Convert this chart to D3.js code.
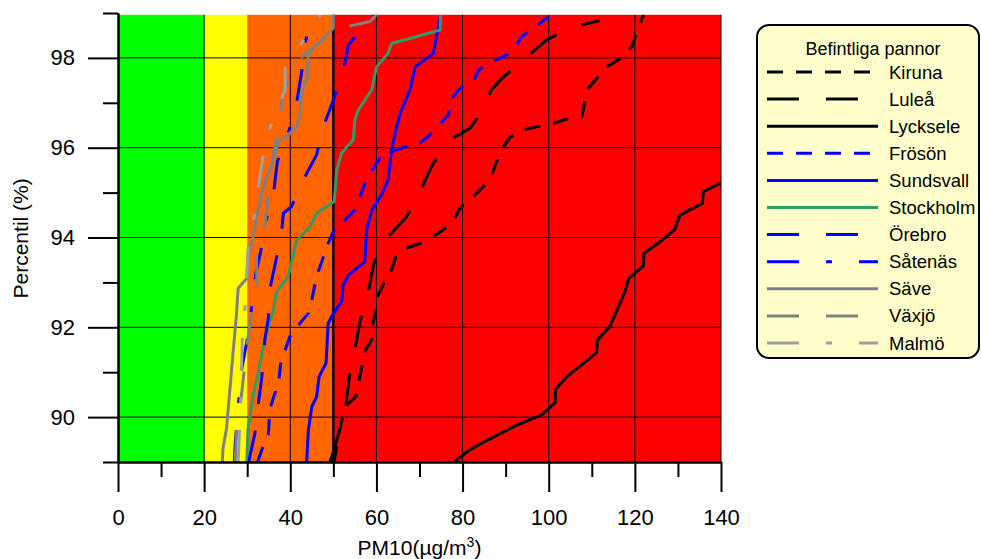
<!DOCTYPE html>
<html>
<head>
<meta charset="utf-8">
<script src="https://cdn.jsdelivr.net/npm/d3@7"></script>
<style>
  body { margin: 0; background: #fff; }
  svg text { font-family: "Liberation Sans", Arial, sans-serif; }
</style>
</head>
<body>
<script>
"use strict"

// [percentile (%), PM10 (µg/m3)], bottom to top
const kiruna = [[89.0, 50.2], [89.5, 51.0], [89.9, 51.9], [90.25, 52.9], [90.45, 55.2], [90.83, 56.0], [91.12, 56.6], [91.46, 57.3], [91.73, 58.9], [92.05, 59.1], [92.39, 59.9], [92.68, 60.2], [92.99, 61.8], [93.28, 63.5], [93.57, 64.5], [93.76, 66.9], [93.86, 70.1], [94.02, 73.2], [94.17, 75.5], [94.4, 78.0], [94.65, 79.4], [94.91, 82.5], [95.13, 84.8], [95.39, 86.8], [95.69, 87.9], [96.02, 89.5], [96.23, 91.0], [96.41, 94.5], [96.54, 101.1], [96.65, 104.6], [96.69, 107.7], [97.02, 108.4], [97.32, 109.2], [97.8, 113.5], [97.98, 116.6], [98.25, 119.3], [98.96, 122.0]]
const lulea = [[89.0, 49.2], [89.34, 50.4], [89.64, 51.2], [89.97, 51.9], [90.25, 52.9], [90.9, 53.7], [91.53, 55.0], [92.16, 56.3], [92.79, 58.1], [93.43, 59.4], [93.98, 62.4], [94.46, 67.0], [95.02, 70.1], [95.58, 72.8], [96.13, 76.3], [96.43, 81.7], [96.99, 86.0], [97.25, 86.4], [97.54, 89.1], [97.95, 94.1], [98.4, 99.5], [98.68, 105.3], [98.83, 111.9]]
const lycksele = [[89.0, 78.0], [89.27, 81.7], [89.5, 86.0], [89.82, 92.6], [90.05, 98.4], [90.32, 101.5], [90.62, 101.6], [90.9, 104.2], [91.43, 111.1], [91.72, 111.3], [92.0, 114.1], [92.79, 117.7], [93.09, 118.6], [93.37, 122.0], [93.65, 122.1], [93.87, 125.4], [94.17, 129.2], [94.5, 130.5], [94.76, 135.7], [95.02, 135.9], [95.22, 140.1]]
const froson = [[89.0, 32.4], [89.3, 33.5], [89.6, 34.9], [89.92, 35.1], [90.23, 35.4], [90.54, 36.5], [90.86, 37.4], [91.2, 37.8], [91.49, 38.8], [91.79, 39.9], [92.05, 41.9], [92.31, 44.2], [92.61, 45.0], [92.94, 45.7], [93.24, 46.5], [93.57, 47.7], [93.87, 48.8], [94.13, 50.0], [94.39, 52.7], [94.61, 55.0], [94.91, 56.2], [95.2, 57.3], [95.5, 58.9], [95.76, 60.8], [95.91, 63.5], [96.02, 66.6], [96.1, 70.1], [96.28, 72.4], [96.54, 74.8], [96.73, 76.7], [97.1, 77.5], [97.32, 79.4], [97.47, 82.5], [97.73, 83.7], [97.88, 86.0], [98.03, 89.5], [98.18, 91.8], [98.47, 93.7], [98.66, 96.4], [98.92, 100.0]]
const sundsvall = [[89.0, 43.8], [89.71, 44.2], [90.23, 45.0], [90.45, 46.1], [90.9, 46.7], [91.2, 48.3], [92.09, 48.8], [92.31, 50.0], [92.57, 51.9], [92.94, 52.3], [93.16, 53.5], [93.46, 57.3], [94.17, 57.7], [94.61, 58.9], [94.95, 61.2], [95.28, 62.7], [95.95, 63.5], [96.47, 64.7], [96.77, 65.5], [97.29, 67.8], [97.8, 69.0], [98.1, 73.2], [98.96, 74.9]]
const stockholm = [[89.0, 29.9], [89.75, 30.2], [90.49, 31.4], [91.01, 32.6], [91.76, 34.1], [92.39, 36.1], [92.79, 36.8], [93.13, 39.5], [93.61, 40.7], [93.94, 41.5], [94.24, 44.6], [94.54, 46.1], [94.8, 50.2], [95.5, 50.8], [95.88, 51.9], [96.17, 54.6], [96.62, 55.0], [96.84, 55.8], [97.29, 58.9], [97.8, 60.0], [98.1, 62.7], [98.32, 63.5], [98.62, 74.8], [98.96, 74.9]]
const orebro = [[89.0, 30.4], [89.12, 30.6], [89.64, 31.8], [90.31, 32.6], [90.9, 33.4], [91.72, 34.1], [92.2, 34.9], [92.87, 35.3], [93.5, 36.7], [94.13, 38.0], [94.54, 38.4], [94.69, 40.3], [95.28, 43.0], [95.84, 46.1], [96.47, 47.7], [97.06, 50.0], [97.69, 52.3], [98.29, 53.5], [98.96, 59.5]]
const satenas = [[89.0, 27.0], [89.4, 27.2], [90.3, 28.0], [91.05, 28.7], [91.68, 29.9], [92.42, 31.0], [93.2, 32.0], [93.72, 33.2], [94.39, 34.4], [95.06, 36.2], [95.69, 37.0], [96.41, 39.8], [97.02, 41.5], [97.66, 42.6], [98.4, 43.6], [98.96, 45.5]]
const save = [[89.0, 24.2], [89.31, 24.4], [89.75, 25.2], [90.64, 26.0], [91.53, 26.8], [92.27, 27.5], [92.87, 27.9], [93.09, 29.9], [93.61, 30.2], [94.02, 31.4], [94.46, 32.2], [94.84, 33.0], [95.13, 33.7], [95.43, 34.9], [95.73, 36.1], [95.99, 36.8], [96.17, 37.6], [96.28, 39.5], [96.47, 41.5], [96.77, 42.3], [97.21, 42.6], [97.58, 44.0], [98.1, 44.2], [98.66, 50.0], [98.96, 50.0]]
const vaxjo = [[89.0, 27.2], [89.67, 27.5], [90.6, 28.8], [91.5, 29.8], [92.2, 30.8], [92.87, 32.2], [93.6, 32.2], [94.13, 33.9], [94.76, 34.7], [95.3, 35.2], [96.0, 36.3], [96.73, 37.6], [97.25, 38.4], [97.9, 41.1], [98.4, 47.5], [98.66, 51.5], [98.81, 58.5], [98.96, 60.0]]
const malmo = [[89.0, 27.9], [90.34, 28.5], [91.0, 28.7], [91.94, 28.9], [92.46, 29.5], [93.1, 29.9], [93.77, 30.2], [94.5, 31.7], [95.13, 32.6], [95.76, 33.6], [96.5, 35.5], [97.29, 38.8], [97.77, 38.8], [98.32, 42.6], [98.96, 47.0]]

const series = [
  { name : "Kiruna",    values : kiruna },
  { name : "Luleå",     values : lulea },
  { name : "Lycksele",  values : lycksele },
  { name : "Frösön",    values : froson },
  { name : "Sundsvall", values : sundsvall },
  { name : "Stockholm", values : stockholm },
  { name : "Örebro",    values : orebro },
  { name : "Såtenäs",   values : satenas },
  { name : "Säve",      values : save },
  { name : "Växjö",     values : vaxjo },
  { name : "Malmö",     values : malmo },
]

// PM10 classes behind the curves
const bandEdges = [0, 20, 30, 50, 140]
const limitValue = 50

const xMajor = [0, 20, 40, 60, 80, 100, 120, 140]
const xMinor = [10, 30, 50, 70, 90, 110, 130]
const yMajor = [90, 92, 94, 96, 98]
const yMinor = [89, 91, 93, 95, 97, 99]

const legendTitle = "Befintliga pannor"

// styles
const bandColors = ["#00ff00", "#ffff00", "#ff6600", "#ff0000"]
const shortDash = "16,13"
const longDash = "32,27"
const dashDot = "32,27,6,27"
const styles = {
  "Kiruna"    : { color : "#000000", dash : shortDash },
  "Luleå"     : { color : "#000000", dash : longDash },
  "Lycksele"  : { color : "#000000", dash : null },
  "Frösön"    : { color : "#0000ff", dash : shortDash },
  "Sundsvall" : { color : "#0000ff", dash : null },
  "Stockholm" : { color : "#339966", dash : null },
  "Örebro"    : { color : "#0000ff", dash : longDash },
  "Såtenäs"   : { color : "#0000ff", dash : dashDot },
  "Säve"      : { color : "#808080", dash : null },
  "Växjö"     : { color : "#808080", dash : longDash },
  "Malmö"     : { color : "#a0a0a0", dash : dashDot },
}

const W = 981
const H = 559

const x = d3.scaleLinear().domain([0, 140]).range([118, 721])
const y = d3.scaleLinear().domain([89, 99]).range([462, 13])
const plotTop = y(98.96)

const svg = d3.select("body").append("svg")
  .attr("width", W)
  .attr("height", H)

svg.append("defs").append("clipPath").attr("id", "plot")
  .append("rect")
  .attr("x", x(0))
  .attr("y", plotTop)
  .attr("width", x(140) - x(0))
  .attr("height", y(89) - plotTop)

// background bands
svg.append("g").selectAll("rect")
  .data(d3.pairs(bandEdges))
  .enter().append("rect")
  .attr("x", ([a]) => x(a))
  .attr("y", plotTop)
  .attr("width", ([a, b]) => x(b) - x(a))
  .attr("height", y(89) - plotTop)
  .attr("fill", (_, i) => bandColors[i])

// grid
const grid = svg.append("g").attr("stroke", "#000").attr("stroke-width", 1)
grid.selectAll(".vgrid").data(xMajor.slice(1)).enter().append("line")
  .attr("x1", d => x(d)).attr("x2", d => x(d))
  .attr("y1", plotTop).attr("y2", y(89))
grid.selectAll(".hgrid").data(yMajor).enter().append("line")
  .attr("x1", x(0)).attr("x2", x(140))
  .attr("y1", d => y(d)).attr("y2", d => y(d))

svg.append("line")
  .attr("x1", x(limitValue)).attr("x2", x(limitValue))
  .attr("y1", plotTop).attr("y2", y(89))
  .attr("stroke", "#000")
  .attr("stroke-width", 2.5)

// curves
const line = d3.line()
  .x(([, v]) => x(v))
  .y(([p]) => y(p))

svg.append("g").attr("clip-path", "url(#plot)")
  .selectAll("path")
  .data(series)
  .enter().append("path")
  .attr("d", d => line(d.values))
  .attr("fill", "none")
  .attr("stroke", d => styles[d.name].color)
  .attr("stroke-width", 3)
  .attr("stroke-dasharray", d => styles[d.name].dash)
  .attr("stroke-linejoin", "round")

// axes
const styleAxis = g => {
  g.select(".domain").attr("stroke-width", 2)
  g.selectAll(".tick line").attr("stroke-width", 2)
  g.selectAll("text").attr("font-size", 22).attr("fill", "#000")
    .style("font-family", "'Liberation Sans', Arial, sans-serif")
}

svg.append("g")
  .attr("transform", `translate(0 ${y(89)})`)
  .call(d3.axisBottom(x).tickValues(xMinor).tickSize(15).tickSizeOuter(0).tickFormat(""))
  .call(styleAxis)
svg.append("g")
  .attr("transform", `translate(0 ${y(89)})`)
  .call(d3.axisBottom(x).tickValues(xMajor).tickSize(30).tickSizeOuter(0).tickPadding(17))
  .call(styleAxis)

svg.append("g")
  .attr("transform", `translate(${x(0)} 0)`)
  .call(d3.axisLeft(y).tickValues(yMinor).tickSize(15).tickSizeOuter(0).tickFormat(""))
  .call(styleAxis)
svg.append("g")
  .attr("transform", `translate(${x(0)} 0)`)
  .call(d3.axisLeft(y).tickValues(yMajor).tickSize(30).tickSizeOuter(0).tickPadding(13))
  .call(styleAxis)

const xTitle = svg.append("text")
  .attr("x", (x(0) + x(140)) / 2)
  .attr("y", 555)
  .attr("text-anchor", "middle")
  .attr("font-size", 21)
xTitle.append("tspan").text("PM10(µg/m")
xTitle.append("tspan").text("3").attr("font-size", 14).attr("dy", -8)
xTitle.append("tspan").text(")").attr("dy", 8)

svg.append("text")
  .attr("transform", `translate(28 ${(y(89) + plotTop) / 2}) rotate(-90)`)
  .attr("text-anchor", "middle")
  .attr("font-size", 21)
  .text("Percentil (%)")

// legend
const legend = svg.append("g")
legend.append("rect")
  .attr("x", 757).attr("y", 25)
  .attr("width", 222).attr("height", 333)
  .attr("rx", 12)
  .attr("fill", "#ffffcc")
  .attr("stroke", "#000")
  .attr("stroke-width", 2)
legend.append("text")
  .attr("x", 873).attr("y", 55)
  .attr("text-anchor", "middle")
  .attr("font-size", 18)
  .text(legendTitle)

const row = d3.scaleLinear().domain([0, series.length - 1]).range([72, 343])
const entry = legend.selectAll(".entry").data(series).enter().append("g")
  .attr("transform", (_, i) => `translate(0 ${row(i)})`)
entry.append("line")
  .attr("x1", 767).attr("x2", 878)
  .attr("stroke", d => styles[d.name].color)
  .attr("stroke-width", 3)
  .attr("stroke-dasharray", d => styles[d.name].dash)
entry.append("text")
  .attr("x", 889).attr("y", 6.5)
  .attr("font-size", 18.5)
  .text(d => d.name)
</script>
</body>
</html>
